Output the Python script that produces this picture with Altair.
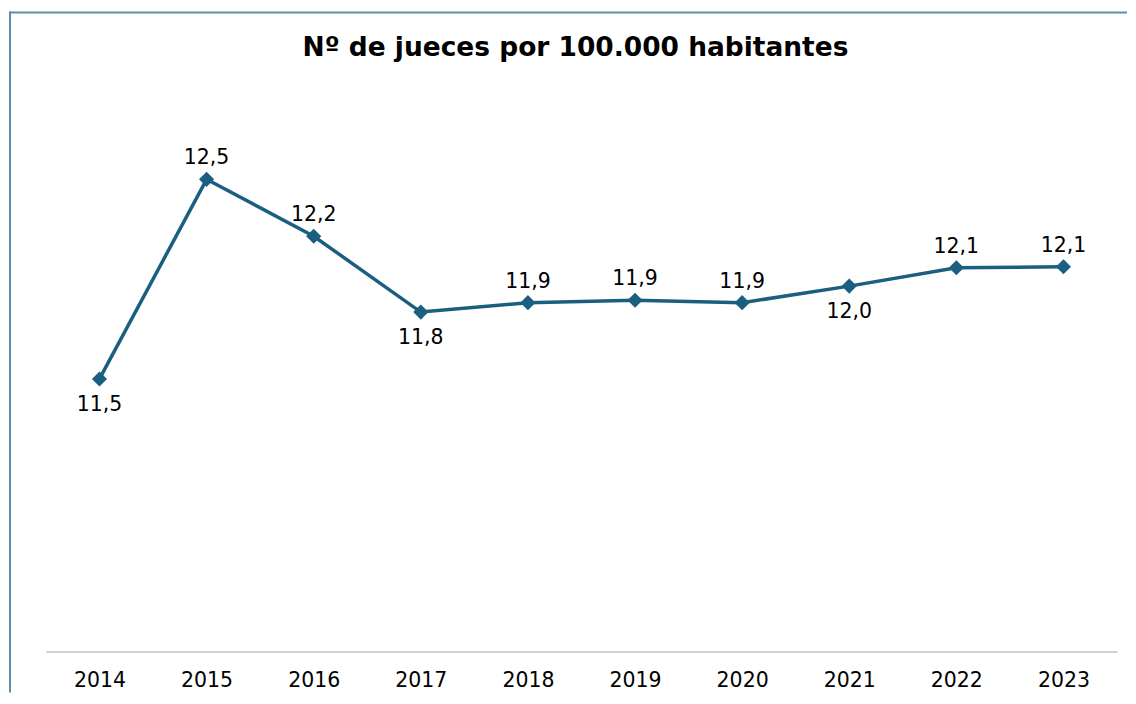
import altair as alt
import pandas as pd

years = ["2014", "2015", "2016", "2017", "2018", "2019", "2020", "2021", "2022", "2023"]
values = [11.50, 12.50, 12.215, 11.835, 11.882, 11.894, 11.882, 11.965, 12.057, 12.062]
labels_below = ["2014", "2017", "2021"]
title_text = "Nº de jueces por 100.000 habitantes"

LINE_COLOR = "#1a5e80"
FONT = "DejaVu Sans"

df = pd.DataFrame({"year": years, "value": values})

x_enc = alt.X(
    "year:O",
    sort=years,
    scale=alt.Scale(type="point", padding=0.5),
    axis=alt.Axis(
        title=None,
        labelAngle=0,
        labelFont=FONT,
        labelFontSize=20.5,
        labelColor="#000000",
        labelPadding=19,
        ticks=False,
        tickSize=0,
        domainColor="#a6a6a6",
        domainWidth=1,
        grid=False,
    ),
)
y_enc = alt.Y("value:Q", scale=alt.Scale(domain=[10.135, 12.9], zero=False), axis=None)

base = alt.Chart(df).encode(x=x_enc, y=y_enc)

line = base.mark_line(color=LINE_COLOR, strokeWidth=3.5)
pts = base.mark_point(shape="diamond", filled=True, size=230, opacity=1, color=LINE_COLOR)

lab = base.transform_calculate(
    lbl="replace(format(datum.value, '.1f'), '.', ',')"
)
txt_above = lab.transform_filter(
    alt.FieldOneOfPredicate(field="year", oneOf=labels_below).__invert__()
).mark_text(dy=-15, baseline="alphabetic", font=FONT, fontSize=20.5, color="#000000").encode(text="lbl:N")
txt_below = lab.transform_filter(
    alt.FieldOneOfPredicate(field="year", oneOf=labels_below)
).mark_text(dy=32, baseline="alphabetic", font=FONT, fontSize=20.5, color="#000000").encode(text="lbl:N")

frame_df = pd.DataFrame({"k": [0]})
left_border = alt.Chart(frame_df).mark_rule(color="#5b8fa3", strokeWidth=2).encode(
    x=alt.value(-36), y=alt.value(-88), y2=alt.value(594)
)
top_border = alt.Chart(frame_df).mark_rule(color="#5b8fa3", strokeWidth=2).encode(
    x=alt.value(-37), x2=alt.value(1083), y=alt.value(-87)
)

chart = (
    alt.layer(left_border, top_border, line, pts, txt_above, txt_below)
    .properties(
        width=1073,
        height=553,
        padding={"left": 0, "top": 2, "right": 0, "bottom": 0},
        background="#ffffff",
        title=alt.TitleParams(
            text=title_text,
            font=FONT,
            fontSize=26.5,
            fontWeight="bold",
            color="#000000",
            anchor="middle",
            frame="group",
            dx=-6,
            offset=-72,
            baseline="alphabetic",
        ),
    )
    .configure_view(stroke=None)
)

chart.save("out.html", embed_options={"renderer": "svg", "actions": False})
